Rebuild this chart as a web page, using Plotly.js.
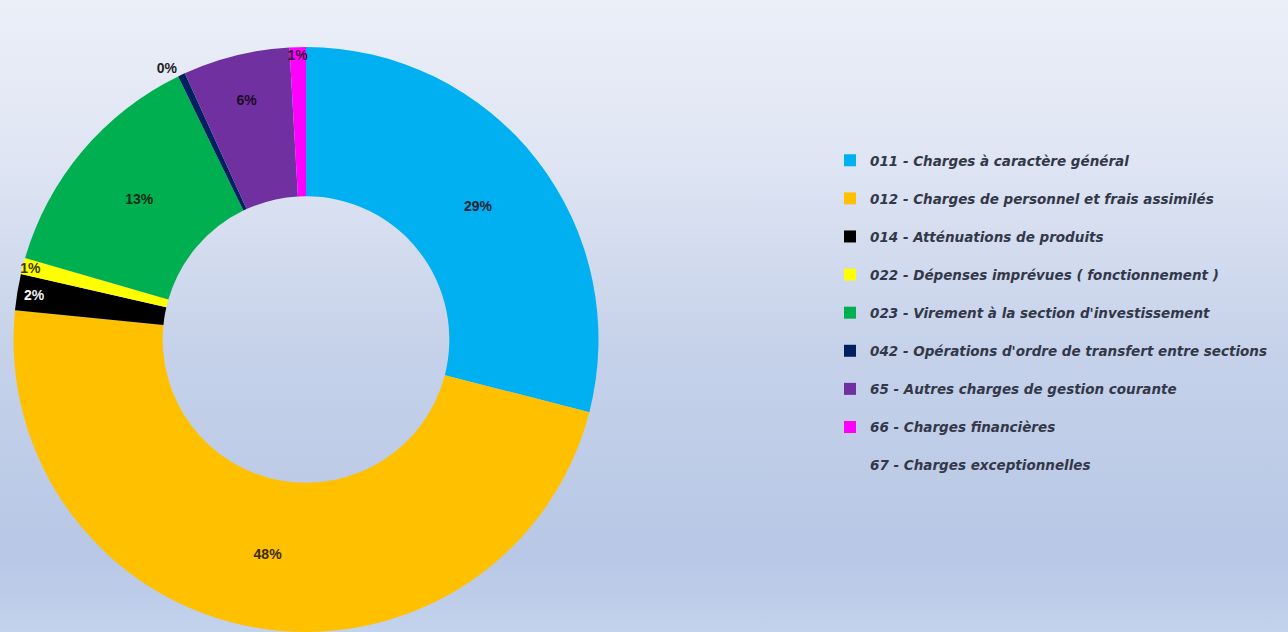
<!DOCTYPE html>
<html>
<head>
<meta charset="utf-8">
<script src="https://cdn.plot.ly/plotly-3.0.1.min.js"></script>
<style>
  html, body { margin: 0; padding: 0; }
  body {
    width: 1288px; height: 632px; overflow: hidden;
    background: linear-gradient(to bottom, #ebeff8 0%, #dfe5f3 25%, #c6d2ea 55%, #b7c7e5 88%, #c3d3ed 100%);
  }
  #chart { width: 1288px; height: 632px; }
</style>
</head>
<body>
<div id="chart"></div>
<script>
// Categories (chapitres budgétaires)
const categories = [
  "011 - Charges à caractère général",
  "012 - Charges de personnel et frais assimilés",
  "014 - Atténuations de produits",
  "022 - Dépenses imprévues ( fonctionnement )",
  "023 - Virement à la section d'investissement",
  "042 - Opérations d'ordre de transfert entre sections",
  "65 - Autres charges de gestion courante",
  "66 - Charges financières",
  "67 - Charges exceptionnelles"
];
// Share of the budget (%)
const shares = [29.0, 47.6, 2.0, 0.9, 13.3, 0.4, 5.9, 0.9, 0];
const colors = ["#00B0F0", "#FFC000", "#000000", "#FFFF00", "#00B050", "#002060", "#7030A0", "#FF00FF", "rgba(0,0,0,0)"];
const labelColors = ["#1c2333", "#3a2c00", "#f2f2f2", "#3a3a00", "#0c2a14", "#222222", "#1a0a26", "#3a0a3a", "#222222"];
const labelPositions = ["inside", "inside", "inside", "inside", "inside", "outside", "inside", "inside", "none"];

const total = shares.reduce((a, b) => a + b, 0);
const labelTexts = shares.map((v, i) => labelPositions[i] === "none" ? "" : Math.round(v / total * 100) + "%");

const W = 1288, H = 632;
const trace = {
  type: "pie",
  labels: categories.map(c => c + "<br> "),
  values: shares,
  text: labelTexts,
  textinfo: "text",
  textposition: labelPositions.map(p => p === "none" ? "inside" : p),
  insidetextorientation: "horizontal",
  hole: 0.49,
  sort: false,
  direction: "clockwise",
  rotation: 0,
  marker: { colors: colors, line: { width: 0 } },
  textfont: { family: "Liberation Sans, Arial, sans-serif", size: 14, color: labelColors, weight: 700 },
  outsidetextfont: { family: "Liberation Sans, Arial, sans-serif", size: 14, color: "#222222", weight: 700 },
  domain: { x: [13 / W, 599 / W], y: [0, 1 - 47 / H] },
  automargin: false,
  hoverinfo: "label+percent"
};

const layout = {
  width: W, height: H,
  margin: { l: 0, r: 0, t: 0, b: 0 },
  paper_bgcolor: "rgba(0,0,0,0)",
  plot_bgcolor: "rgba(0,0,0,0)",
  showlegend: true,
  uniformtext: { minsize: 14, mode: "show" },
  legend: {
    x: 830 / W, xanchor: "left",
    y: 1 - 145 / H, yanchor: "top",
    valign: "top",
    bgcolor: "rgba(0,0,0,0)",
    itemclick: false,
    font: { family: "DejaVu Sans, sans-serif", size: 13.5, color: "#333849", style: "italic", weight: 700 }
  }
};

Plotly.newPlot("chart", [trace], layout, { displayModeBar: false, staticPlot: true });
</script>
</body>
</html>
